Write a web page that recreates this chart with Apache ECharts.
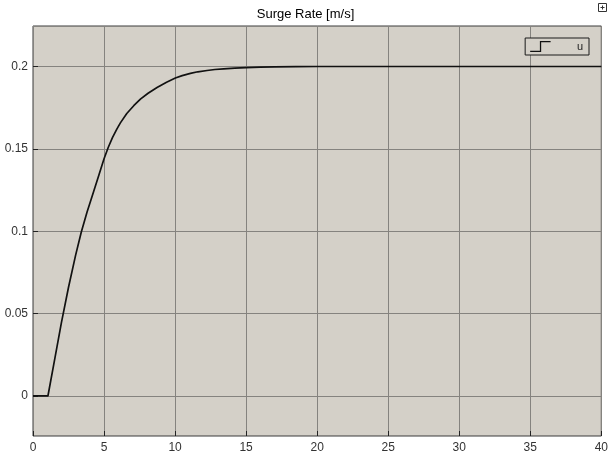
<!DOCTYPE html>
<html>
<head>
<meta charset="utf-8">
<script src="https://cdn.jsdelivr.net/npm/echarts@6/dist/echarts.min.js"></script>
<style>
  html, body { margin: 0; padding: 0; background: #ffffff; }
  #chart { width: 611px; height: 458px; }
</style>
</head>
<body>
<div id="chart"></div>
<script>
// Surge rate step response (time in seconds, rate in m/s)
const timeS = [0, 1.05, 1.5, 2.0, 2.5, 3.0, 3.4, 3.8, 4.28, 4.65, 5.0, 5.3, 5.6, 5.9, 6.15, 6.6, 7.09, 7.56, 8.1, 8.73, 9.4, 10.02, 10.5, 11.08, 11.6, 12.25, 12.8, 13.42, 14.2, 15, 16, 17, 18.5, 20, 25, 30, 40];
const surge = [0, 0, 0.021, 0.0445, 0.066, 0.0855, 0.0995, 0.1115, 0.1245, 0.1345, 0.144, 0.151, 0.157, 0.162, 0.1658, 0.1715, 0.1762, 0.1802, 0.1838, 0.1873, 0.1905, 0.193, 0.1945, 0.1958, 0.1968, 0.1976, 0.1982, 0.1986, 0.199, 0.1993, 0.1996, 0.1998, 0.1999, 0.2, 0.2, 0.2, 0.2];
const yTicks = [0, 0.05, 0.1, 0.15, 0.2];
const seriesName = 'u';
const chartTitle = 'Surge Rate [m/s]';

const points = timeS.map((t, i) => [t, surge[i]]);
const font = 'Arial, "Liberation Sans", sans-serif';
const gridColor = '#85837f';
const frameColor = '#3a3a3a';

const chart = echarts.init(document.getElementById('chart'), null, { renderer: 'canvas' });
chart.setOption({
  animation: false,
  backgroundColor: '#ffffff',
  title: {
    text: chartTitle,
    left: 'center',
    top: 3,
    textStyle: { fontFamily: font, fontSize: 13, fontWeight: 'normal', color: '#000' }
  },
  legend: {
    data: [{ name: seriesName }],
    right: 22,
    top: 38,
    orient: 'horizontal',
    padding: [3, 6, 3, 5],
    borderColor: '#1a1a1a',
    borderWidth: 1,
    backgroundColor: '#d4d0c8',
    itemWidth: 21,
    itemHeight: 11,
    icon: 'path://M0,10 L10,10 L10,0 L21,0 L21,1.3 L11.3,1.3 L11.3,11.3 L0,11.3 Z',
    textStyle: { fontFamily: font, fontSize: 11, color: '#222', padding: [0, 0, 0, 21] }
  },
  grid: {
    left: 33, right: 9, top: 26, bottom: 22,
    show: true,
    backgroundColor: '#d4d0c8',
    borderColor: frameColor,
    borderWidth: 1
  },
  xAxis: {
    type: 'value',
    min: 0, max: 40, interval: 5,
    axisLine: { show: false, onZero: false },
    axisTick: { show: true, inside: true, length: 5, lineStyle: { color: '#222' } },
    axisLabel: { fontFamily: font, fontSize: 12, color: '#333', margin: 6 },
    splitLine: { show: true, lineStyle: { color: gridColor, width: 1 } }
  },
  yAxis: {
    type: 'value',
    min: -0.0243, max: 0.2246,
    axisLine: { show: false, onZero: false },
    axisTick: { show: true, inside: true, length: 5, customValues: yTicks, lineStyle: { color: '#222' } },
    axisLabel: { fontFamily: font, fontSize: 12, color: '#333', margin: 5, customValues: yTicks },
    splitLine: { show: true, lineStyle: { color: gridColor, width: 1 } }
  },
  series: [{
    name: seriesName,
    type: 'line',
    data: points,
    showSymbol: false,
    smooth: false,
    lineStyle: { color: '#111', width: 1.7 },
    itemStyle: { color: '#111' }
  }],
  graphic: [{
    type: 'group',
    left: 598, top: 3,
    children: [
      { type: 'rect', shape: { x: 0, y: 0, width: 8, height: 8 }, style: { fill: '#fff', stroke: '#333', lineWidth: 1 } },
      { type: 'line', shape: { x1: 2, y1: 4, x2: 6, y2: 4 }, style: { stroke: '#333', lineWidth: 1 } },
      { type: 'line', shape: { x1: 4, y1: 2, x2: 4, y2: 6 }, style: { stroke: '#333', lineWidth: 1 } }
    ]
  }]
});
</script>
</body>
</html>
